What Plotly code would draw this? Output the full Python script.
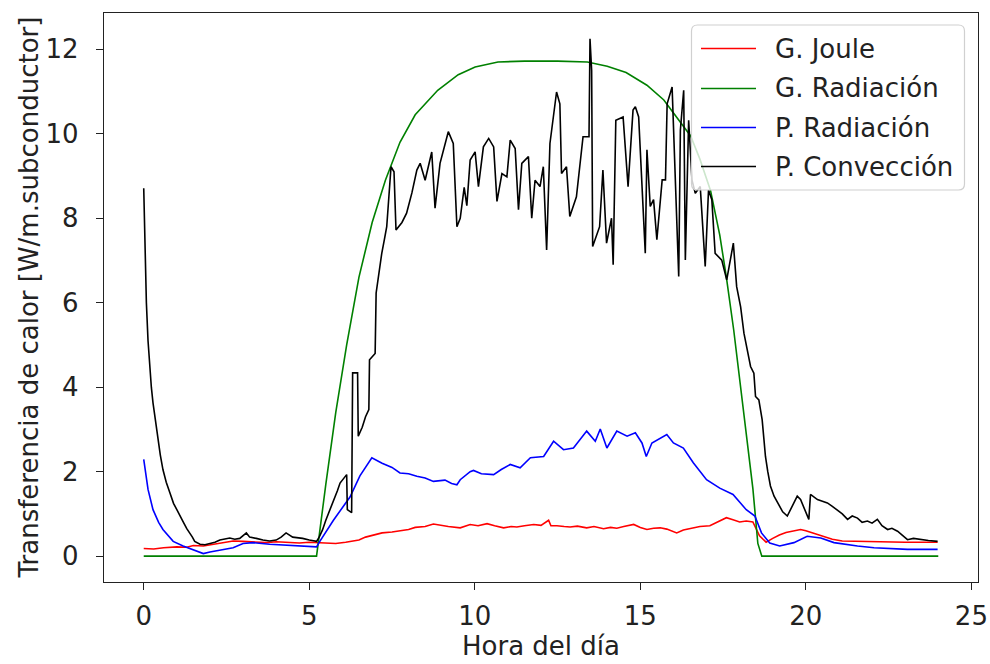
import plotly.graph_objects as go

# ---------------- data ----------------
series_names = ["G. Joule", "G. Radiación", "P. Radiación", "P. Convección"]
series_colors = ["#ff0000", "#008000", "#0000ff", "#000000"]

t_joule = [0.0, 0.3, 0.6, 1.0, 1.3, 1.5, 1.8, 2.2, 2.5, 2.7, 3.0, 3.2, 3.5, 3.7, 4.0, 4.2, 4.5,
           4.7, 5.0, 5.2, 5.5, 5.8, 6.1, 6.3, 6.5, 6.7, 7.0, 7.2, 7.5, 7.7, 8.0, 8.2, 8.5, 8.75,
           9.0, 9.2, 9.56, 9.86, 10.1, 10.37, 10.6, 10.87, 11.1, 11.27, 11.5, 11.78, 12.0, 12.23,
           12.3, 12.48, 12.7, 12.88, 13.1, 13.38, 13.6, 13.89, 14.1, 14.29, 14.5, 14.8, 15.0,
           15.2, 15.4, 15.6, 15.8, 16.1, 16.3, 16.6, 16.8, 17.1, 17.3, 17.6, 17.8, 18.0, 18.2,
           18.4, 18.6, 18.8, 19.0, 19.2, 19.4, 19.6, 19.84, 20.0, 20.2, 20.4, 20.6, 20.8, 21.1,
           21.5, 22.0, 22.5, 23.0, 23.5, 23.98]
v_joule = [0.18, 0.17, 0.2, 0.22, 0.21, 0.25, 0.24, 0.3, 0.34, 0.36, 0.35, 0.34, 0.33, 0.32,
           0.34, 0.33, 0.32, 0.31, 0.33, 0.32, 0.31, 0.3, 0.33, 0.35, 0.38, 0.45, 0.5, 0.55,
           0.57, 0.6, 0.63, 0.68, 0.7, 0.76, 0.72, 0.7, 0.67, 0.75, 0.72, 0.77, 0.72, 0.67, 0.7,
           0.69, 0.72, 0.75, 0.73, 0.85, 0.72, 0.72, 0.7, 0.69, 0.71, 0.67, 0.7, 0.65, 0.68, 0.66,
           0.7, 0.75, 0.68, 0.63, 0.66, 0.67, 0.64, 0.55, 0.62, 0.67, 0.7, 0.72, 0.8, 0.91, 0.86,
           0.81, 0.83, 0.81, 0.48, 0.33, 0.42, 0.5, 0.56, 0.6, 0.63, 0.6, 0.55, 0.5, 0.45, 0.4,
           0.36, 0.35, 0.34, 0.34, 0.33, 0.33, 0.33]

t_grad = [0.0, 5.22, 5.5, 5.8, 6.13, 6.5, 6.9, 7.3, 7.74, 8.2, 8.88, 9.5, 10.01, 10.7, 11.5,
          12.5, 13.4, 14.0, 14.57, 15.2, 15.71, 16.2, 16.52, 16.8, 17.12, 17.4, 17.6, 17.82,
          18.0, 18.2, 18.4, 18.55, 18.67, 24.0]
v_grad = [0.0, 0.0, 1.7, 3.4, 5.0, 6.6, 7.9, 8.9, 9.8, 10.45, 11.03, 11.4, 11.58, 11.7, 11.72,
          11.72, 11.7, 11.6, 11.45, 11.15, 10.8, 10.3, 9.95, 9.4, 8.66, 7.6, 6.6, 5.36, 4.2,
          3.0, 1.6, 0.3, 0.0, 0.0]

t_prad = [0.0, 0.13, 0.28, 0.45, 0.58, 0.89, 1.19, 1.59, 1.8, 2.0, 2.3, 2.7, 3.0, 3.3, 3.8, 4.2,
          4.7, 5.22, 5.32, 5.73, 6.23, 6.53, 6.89, 7.2, 7.5, 7.74, 8.0, 8.25, 8.5, 8.75, 9.1,
          9.3, 9.46, 9.56, 9.86, 9.96, 10.2, 10.57, 10.8, 11.07, 11.37, 11.68, 12.08, 12.38,
          12.68, 12.98, 13.38, 13.64, 13.79, 13.99, 14.29, 14.6, 14.85, 15.05, 15.18, 15.35,
          15.8, 16.0, 16.3, 16.6, 17.0, 17.4, 17.8, 18.2, 18.46, 18.66, 18.91, 19.21, 19.64,
          20.04, 20.45, 20.85, 21.56, 22.06, 23.07, 23.98]
v_prad = [2.29, 1.58, 1.1, 0.8, 0.63, 0.35, 0.24, 0.12, 0.06, 0.1, 0.15, 0.2, 0.3, 0.32, 0.28,
          0.26, 0.24, 0.22, 0.35, 0.85, 1.4, 1.9, 2.33, 2.2, 2.1, 1.97, 1.95, 1.89, 1.85, 1.77,
          1.8, 1.72, 1.69, 1.81, 2.0, 2.03, 1.95, 1.93, 2.05, 2.17, 2.09, 2.33, 2.36, 2.72,
          2.52, 2.56, 2.96, 2.72, 3.01, 2.56, 2.96, 2.84, 2.92, 2.68, 2.36, 2.68, 2.88, 2.68,
          2.56, 2.21, 1.81, 1.61, 1.46, 1.1, 0.95, 0.55, 0.31, 0.24, 0.32, 0.47, 0.43, 0.32,
          0.24, 0.2, 0.16, 0.16]

t_pconv = [0.0, 0.04, 0.08, 0.13, 0.18, 0.23, 0.28, 0.35, 0.43, 0.5, 0.58, 0.68, 0.79, 0.9,
           1.0, 1.09, 1.2, 1.3, 1.39, 1.47, 1.54, 1.7, 1.85, 2.0, 2.15, 2.3, 2.45, 2.6, 2.75,
           2.9, 3.1, 3.2, 3.4, 3.6, 3.8, 4.0, 4.15, 4.3, 4.5, 4.65, 4.8, 5.0, 5.1, 5.22, 5.3,
           5.4, 5.5, 5.63, 5.75, 5.85, 5.93, 6.05, 6.13, 6.15, 6.28, 6.31, 6.46, 6.48, 6.6, 6.7,
           6.8, 6.82, 6.99, 7.02, 7.12, 7.19, 7.27, 7.34, 7.47, 7.56, 7.62, 7.8, 7.94, 8.1,
           8.25, 8.35, 8.5, 8.7, 8.8, 8.95, 9.2, 9.35, 9.46, 9.56, 9.68, 9.76, 9.86, 10.01,
           10.11, 10.26, 10.42, 10.57, 10.67, 10.82, 10.97, 11.07, 11.22, 11.32, 11.42, 11.62,
           11.72, 11.82, 11.97, 12.07, 12.17, 12.27, 12.47, 12.57, 12.62, 12.77, 12.87, 13.07,
           13.27, 13.45, 13.48, 13.53, 13.56, 13.77, 13.87, 13.98, 14.13, 14.18, 14.26, 14.48,
           14.63, 14.78, 14.85, 14.95, 15.15, 15.2, 15.3, 15.4, 15.5, 15.66, 15.76, 15.81,
           15.96, 16.01, 16.16, 16.21, 16.31, 16.36, 16.46, 16.56, 16.66, 16.81, 16.96, 17.06,
           17.16, 17.26, 17.46, 17.61, 17.81, 17.91, 18.03, 18.13, 18.23, 18.33, 18.43, 18.48,
           18.58, 18.68, 18.73, 18.78, 18.85, 18.93, 19.04, 19.12, 19.19, 19.3, 19.44, 19.54,
           19.64, 19.74, 19.84, 19.99, 20.09, 20.14, 20.25, 20.35, 20.5, 20.65, 20.8, 20.95,
           21.1, 21.26, 21.4, 21.56, 21.7, 21.86, 22.0, 22.16, 22.3, 22.47, 22.6, 22.77, 22.9,
           23.07, 23.25, 23.47, 23.7, 23.98]
v_pconv = [8.71, 7.2, 6.0, 5.1, 4.41, 4.0, 3.63, 3.2, 2.84, 2.4, 2.05, 1.75, 1.5, 1.25, 1.1,
           0.95, 0.8, 0.65, 0.55, 0.45, 0.35, 0.28, 0.27, 0.3, 0.33, 0.38, 0.4, 0.43, 0.4,
           0.42, 0.55, 0.45, 0.42, 0.38, 0.36, 0.38, 0.45, 0.55, 0.45, 0.44, 0.42, 0.38, 0.36,
           0.35, 0.45, 0.62, 0.85, 1.1, 1.35, 1.55, 1.73, 1.85, 1.93, 1.1, 1.03, 4.34, 4.34,
           2.84, 3.05, 3.3, 3.47, 4.65, 4.8, 6.23, 6.8, 7.17, 7.5, 7.8, 9.22, 9.1, 7.72, 7.9,
           8.12, 8.6, 9.14, 9.3, 8.9, 9.57, 8.24, 9.3, 10.05, 9.77, 7.8, 8.0, 8.73, 8.3, 9.38,
           9.57, 8.75, 9.69, 9.89, 9.69, 8.4, 9.06, 8.98, 9.85, 9.65, 8.2, 9.3, 9.46, 8.0, 8.9,
           8.75, 9.22, 7.25, 9.77, 10.99, 10.71, 9.06, 9.22, 8.04, 8.51, 9.93, 9.93, 12.25,
           11.5, 7.33, 7.8, 9.14, 7.41, 8.0, 6.9, 10.32, 10.4, 8.75, 10.56, 10.64, 10.4, 7.17,
           9.62, 8.28, 8.44, 7.49, 8.91, 8.91, 10.71, 11.11, 10.01, 6.62, 10.09, 11.03, 7.01,
           10.32, 8.91, 8.59, 8.75, 6.86, 8.67, 8.44, 7.17, 7.01, 6.54, 7.41, 6.38, 5.9, 5.28,
           4.9, 4.49, 4.33, 3.78, 3.7, 3.23, 2.8, 2.36, 2.0, 1.66, 1.42, 1.3, 1.18, 1.05, 0.95,
           1.1, 1.26, 1.42, 1.34, 1.03, 0.87, 1.46, 1.4, 1.34, 1.3, 1.26, 1.18, 1.1, 1.0, 0.87,
           0.95, 0.9, 0.8, 0.83, 0.78, 0.87, 0.72, 0.63, 0.66, 0.59, 0.5, 0.39, 0.42, 0.39,
           0.37, 0.35]

x_ticks = [0, 5, 10, 15, 20, 25]
y_ticks = [0, 2, 4, 6, 8, 10, 12]
x_title = "Hora del día"
y_title = "Transferencia de calor [W/m.subconductor]"

# ---------------- figure ----------------
FONT = "DejaVu Sans"
FS = 26
TXT = "#222222"
W, H = 990, 664
ML, MR, MT, MB = 104, 12, 13, 82
PW, PH = W - ML - MR, H - MT - MB


def pxx(x):
    return (x - ML) / PW


def pxy(y):
    return (H - MB - y) / PH


fig = go.Figure()
all_t = [t_joule, t_grad, t_prad, t_pconv]
all_v = [v_joule, v_grad, v_prad, v_pconv]
for name, col, tt, vv in zip(series_names, series_colors, all_t, all_v):
    fig.add_trace(go.Scatter(x=tt, y=vv, mode="lines", name=name,
                             line=dict(color=col, width=1.6), showlegend=False))

axis_common = dict(showgrid=False, zeroline=False, showline=True, mirror=True,
                   linecolor="#222222", linewidth=1.3, ticks="outside", ticklen=7,
                   tickwidth=1.3, tickcolor="#222222", automargin=False,
                   tickfont=dict(family=FONT, size=FS, color=TXT))

fig.update_xaxes(range=[-1.2, 25.2], tickvals=x_ticks, ticklabelstandoff=4, **axis_common)
fig.update_yaxes(range=[-0.6125, 12.86], tickvals=y_ticks, ticklabelstandoff=12,
                 **axis_common)

# axis titles
fig.add_annotation(text=x_title, xref="paper", yref="paper", x=0.5, y=pxy(663),
                   xanchor="center", yanchor="bottom", showarrow=False,
                   font=dict(family=FONT, size=FS, color=TXT))
fig.add_annotation(text=y_title, xref="paper", yref="paper", x=pxx(28), y=0.5,
                   xanchor="center", yanchor="middle", showarrow=False, textangle=-90,
                   font=dict(family=FONT, size=FS, color=TXT))

# ---------------- legend (drawn as box + line samples + texts) ----------------
bx0, bx1, by0, by1 = 691.5, 964.5, 25, 190
r = 6
rx, ry = r / PW, r / PH
X0, X1, Y0, Y1 = pxx(bx0), pxx(bx1), pxy(by1), pxy(by0)
path = (f"M {X0+rx},{Y0} L {X1-rx},{Y0} Q {X1},{Y0} {X1},{Y0+ry} "
        f"L {X1},{Y1-ry} Q {X1},{Y1} {X1-rx},{Y1} L {X0+rx},{Y1} "
        f"Q {X0},{Y1} {X0},{Y1-ry} L {X0},{Y0+ry} Q {X0},{Y0} {X0+rx},{Y0} Z")
fig.add_shape(type="path", path=path, xref="paper", yref="paper",
              line=dict(color="#d0d0d0", width=1.2), fillcolor="rgba(255,255,255,0.8)")
entry_y = [48.5, 88.5, 127.5, 166.5]
for name, col, ey in zip(series_names, series_colors, entry_y):
    fig.add_shape(type="line", xref="paper", yref="paper",
                  x0=pxx(701), x1=pxx(756), y0=pxy(ey), y1=pxy(ey),
                  line=dict(color=col, width=1.6))
    fig.add_annotation(text=name, xref="paper", yref="paper", x=pxx(773), y=pxy(ey),
                       xanchor="left", yanchor="middle", showarrow=False,
                       font=dict(family=FONT, size=FS, color=TXT))

fig.update_layout(width=W, height=H, margin=dict(l=ML, r=MR, t=MT, b=MB, pad=0),
                  paper_bgcolor="white", plot_bgcolor="white",
                  font=dict(family=FONT, size=FS, color=TXT), showlegend=False)

fig.write_html("out.html")
